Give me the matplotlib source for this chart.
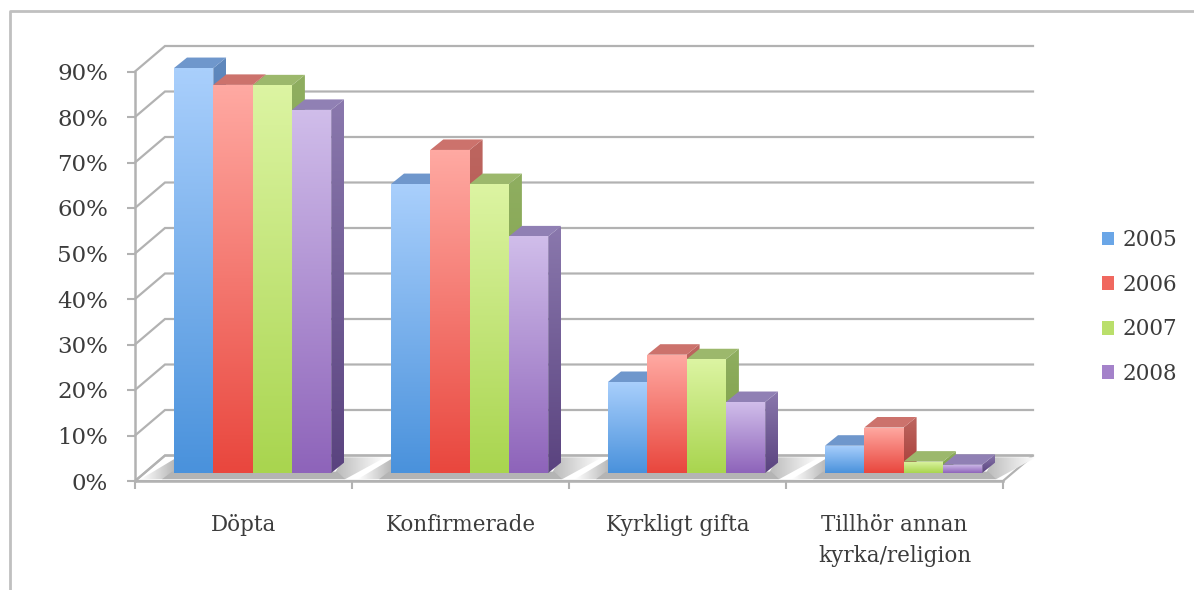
import numpy as np
import matplotlib
matplotlib.use('Agg')
from matplotlib import pyplot as plt
from matplotlib.colors import to_rgb
from matplotlib.patches import Polygon, Patch
from matplotlib.lines import Line2D

categories = ["Döpta", "Konfirmerade", "Kyrkligt gifta", "Tillhör annan\nkyrka/religion"]
years = ["2005", "2006", "2007", "2008"]
v2005 = [89, 63.5, 20, 6]
v2006 = [85.3, 71, 26, 10]
v2007 = [85.2, 63.5, 25, 2.5]
v2008 = [79.8, 52, 15.6, 1.8]
series = [v2005, v2006, v2007, v2008]
yticks = list(range(0, 100, 10))

# colours: front top, front bottom, side top, side bottom, top face
face_top = ['#a9cffc', '#ffa9a2', '#dcf4a2', '#d0bdea']
face_bot = ['#4a92dc', '#e9473e', '#a9d54f', '#8e64ba']
side_top = ['#5f88bd', '#bd6660', '#8fae60', '#8a78ad']
side_bot = ['#3a6aa8', '#a83d38', '#7a9c40', '#5a437f']
top_col = ['#6f97cc', '#cc726c', '#9cb86c', '#9080b4']
grid_col = '#b2b2b2'
shadow_col = '#b4b4b4'
text_col = '#3c3c3c'

W, H = 1194, 590
x0, x1 = 135, 1003
y0, y90 = 481, 71.5

plt.rcParams['font.family'] = ['DejaVu Serif']
fig = plt.figure(figsize=(W / 100, H / 100), dpi=100)
ax = fig.add_axes([x0 / W, 1 - y0 / H, (x1 - x0) / W, (y0 - y90) / H])
ax.set_xlim(0, 4)
ax.set_ylim(0, 90)

# pixel sizes turned into data units
ux = 4 / (x1 - x0)
uy = 90 / (y0 - y90)
wall_dx, wall_dy = 30 * ux, 25.5 * uy
bar_off_y = 8 * uy
depth_x, depth_y = 13 * ux, 10.5 * uy
bar_w = 39.3 * ux


def grad_poly(pts, c1, c2, z, horizontal=False):
    pts = np.array(pts)
    col = np.linspace(to_rgb(c1), to_rgb(c2), 64)
    col = col.reshape(1, 64, 3) if horizontal else col.reshape(64, 1, 3)
    im = ax.imshow(col, extent=(pts[:, 0].min(), pts[:, 0].max(), pts[:, 1].min(), pts[:, 1].max()),
                   aspect='auto', origin='upper', zorder=z, interpolation='bilinear')
    clip = Polygon(pts, closed=True, transform=ax.transData, fc='none', ec='none')
    ax.add_patch(clip)
    im.set_clip_path(clip)
    # the top bars stick out over the axes box
    im.set_clip_box(fig.bbox)


# floor and back wall
ax.add_patch(Polygon([(0, 0), (4, 0), (4 + wall_dx, wall_dy), (wall_dx, wall_dy)],
                     closed=True, fc='white', ec=grid_col, lw=1.6, zorder=1, clip_on=False))
for t in yticks:
    ax.plot([0, wall_dx, 4 + wall_dx], [t, t + wall_dy, t + wall_dy], color=grid_col, lw=1.6,
            zorder=2.5, clip_on=False, solid_joinstyle='miter')

# bars
for g in range(len(categories)):
    left = g + 39 * ux
    right = left + bar_w * 4
    # shadow on the floor
    grad_poly([(left - 33 * ux, 0.4), (left + 2 * ux, 0.4), (left + 2 * ux, wall_dy - 0.6)],
              'white', shadow_col, 2, horizontal=True)
    grad_poly([(right, 0.4), (right + 14 * ux, 0.4), (right + 54 * ux, wall_dy - 0.4), (right + 13 * ux, wall_dy - 0.4)],
              shadow_col, 'white', 2, horizontal=True)
    ax.add_patch(Polygon([(left - 12 * ux, 0.4), (right + 14 * ux, 0.4), (right + 6 * ux, bar_off_y + 0.3), (left - 2 * ux, bar_off_y + 0.3)],
                         closed=True, fc=shadow_col, ec='none', zorder=2, clip_on=False))
    for s in range(4):
        v = series[s][g]
        xa = left + s * bar_w
        xb = xa + bar_w
        ya = bar_off_y
        yb = ya + v
        # side face
        grad_poly([(xb, ya), (xb + depth_x, ya + depth_y), (xb + depth_x, yb + depth_y), (xb, yb)],
                  side_top[s], side_bot[s], 3 + s)
        # top face
        ax.add_patch(Polygon([(xa, yb), (xb, yb), (xb + depth_x, yb + depth_y), (xa + depth_x, yb + depth_y)],
                             closed=True, fc=top_col[s], ec='none', zorder=3 + s, clip_on=False))
        # front face
        grad_poly([(xa, ya), (xb, ya), (xb, yb), (xa, yb)], face_top[s], face_bot[s], 3 + s)

ax.set_xlim(0, 4)
ax.set_ylim(0, 90)

for side in ['top', 'right']:
    ax.spines[side].set_visible(False)
for side in ['left', 'bottom']:
    ax.spines[side].set_color(grid_col)
    ax.spines[side].set_linewidth(1.8)
    ax.spines[side].set_zorder(10)

ax.set_yticks(yticks)
ax.set_yticklabels([str(t) + '%' for t in yticks], fontsize=16.5, color=text_col)
ax.set_xticks(range(5))
ax.set_xticklabels([])
ax.set_xticks(np.arange(4) + 0.5, minor=True)
ax.set_xticklabels(categories, minor=True, fontsize=15.5, color=text_col, linespacing=1.5, va='top')
ax.tick_params(axis='y', which='major', length=5.5, width=1.5, color=grid_col, pad=14)
ax.tick_params(axis='x', which='major', length=5.5, width=1.5, color=grid_col)
ax.tick_params(axis='x', which='minor', length=0, pad=24)

# legend, swatches are the mid tone of the bars
mid = [(np.array(to_rgb(face_top[i])) + 2 * np.array(to_rgb(face_bot[i]))) / 3 for i in range(4)]
handles = [Patch(fc=mid[i], ec='none') for i in range(4)]
fig.legend(handles, years, loc='center left', bbox_to_anchor=(1102 / W, 1 - 307 / H), frameon=False,
           fontsize=15.5, labelcolor=text_col, handlelength=0.55, handleheight=0.6, handletextpad=0.4,
           labelspacing=1.05, borderpad=0, borderaxespad=0)

# outer frame
fig.add_artist(Line2D([9.5 / W, 9.5 / W, 1], [0, 1 - 10.5 / H, 1 - 10.5 / H], color='#c0c0c0', lw=2))

fig.savefig('out.png', dpi=100)
